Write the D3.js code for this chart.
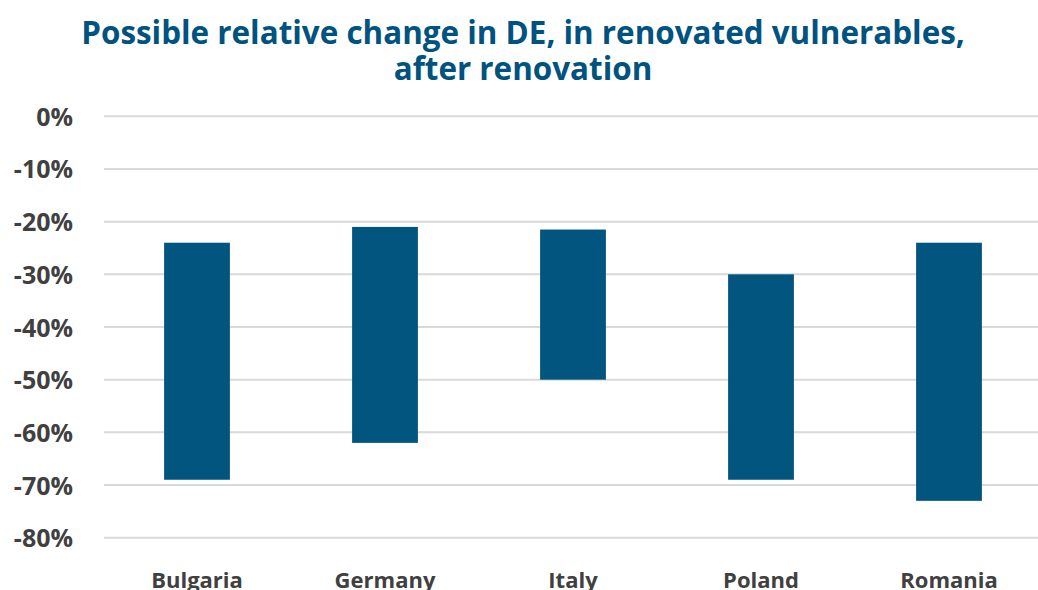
<!DOCTYPE html>
<html>
<head>
<meta charset="utf-8">
<script src="https://cdn.jsdelivr.net/npm/d3@7"></script>
<style>
  html, body { margin: 0; padding: 0; background: #ffffff; }
  svg { display: block; font-family: "Open Sans", sans-serif; }
</style>
</head>
<body>
<svg id="chart" width="1038" height="590"></svg>
<script>
// Countries and the range of possible relative change (low / high end)
const countries = ["Bulgaria", "Germany", "Italy", "Poland", "Romania"];
const highEnd = [-0.24, -0.21, -0.215, -0.30, -0.24];
const lowEnd = [-0.69, -0.62, -0.50, -0.69, -0.73];
const yTicks = [0, -0.1, -0.2, -0.3, -0.4, -0.5, -0.6, -0.7, -0.8];
const titleLines = ["Possible relative change in DE, in renovated vulnerables,", "after renovation"];

const W = 1038, H = 590;
const FONT = "'Open Sans', sans-serif";
const svg = d3.select("#chart");

const x = d3.scaleBand().domain(countries).range([103, 1043]).paddingInner(0.65).paddingOuter(0.325);
const y = d3.scaleLinear().domain([-0.8, 0]).range([537.7, 116.3]);

// Percent labels with a plain hyphen for negatives
const pct = d => (d < 0 ? "-" : "") + Math.round(Math.abs(d) * 100) + "%";

// Title, one text element per line
svg.append("g").selectAll("text").data(titleLines).join("text")
  .attr("x", 523).attr("y", (d, i) => 44 + i * 36)
  .attr("text-anchor", "middle")
  .attr("fill", "#00537f")
  .style("font-family", FONT)
  .style("font-weight", 700).style("font-size", "31.4px")
  .text(d => d);

// Gridlines
svg.append("g").selectAll("line").data(yTicks).join("line")
  .attr("x1", 104).attr("x2", W)
  .attr("y1", d => y(d)).attr("y2", d => y(d))
  .attr("stroke", "#d9d9d9").attr("stroke-width", 2);

// Y axis labels
const yAxis = d3.axisLeft(y).tickValues(yTicks).tickFormat(pct).tickSize(0).tickPadding(0);
const gy = svg.append("g").attr("transform", "translate(73,0)").call(yAxis);
gy.select(".domain").remove();
gy.selectAll("text")
  .attr("fill", "#404040")
  .style("font-family", FONT)
  .style("font-weight", 700).style("font-size", "25px")
  .attr("dy", "0.36em");

// Floating bars
svg.append("g").selectAll("rect").data(countries).join("rect")
  .attr("x", d => x(d))
  .attr("width", x.bandwidth())
  .attr("y", (d, i) => y(highEnd[i]))
  .attr("height", (d, i) => y(lowEnd[i]) - y(highEnd[i]))
  .attr("fill", "#02557f");

// Category labels along the bottom edge
const xAxis = d3.axisBottom(x).tickSize(0).tickPadding(0);
const gx = svg.append("g").attr("transform", "translate(0,588)").call(xAxis);
gx.select(".domain").remove();
gx.selectAll("text")
  .attr("dy", 0)
  .attr("fill", "#404040")
  .style("font-family", FONT)
  .style("font-weight", 700).style("font-size", "22px");
</script>
</body>
</html>
